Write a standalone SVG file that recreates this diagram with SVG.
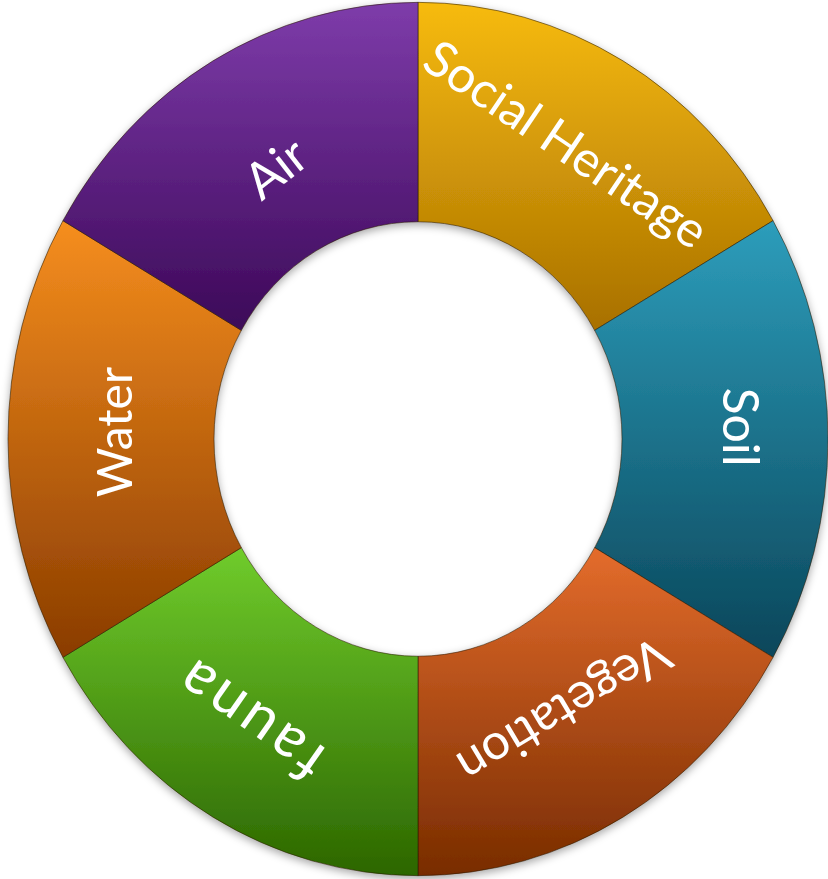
<svg xmlns="http://www.w3.org/2000/svg" width="828" height="879" viewBox="0 0 828 879">
<defs>
<linearGradient id="gGold" x1="0" y1="0" x2="0" y2="1"><stop offset="0" stop-color="#F7BB10"/><stop offset="1" stop-color="#A87000"/></linearGradient>
<linearGradient id="gTeal" x1="0" y1="0" x2="0" y2="1"><stop offset="0" stop-color="#2D9DBB"/><stop offset="1" stop-color="#0A465A"/></linearGradient>
<linearGradient id="gVeg" x1="0" y1="0" x2="0" y2="1"><stop offset="0" stop-color="#E46C2C"/><stop offset="1" stop-color="#782C00"/></linearGradient>
<linearGradient id="gGreen" x1="0" y1="0" x2="0" y2="1"><stop offset="0" stop-color="#70CC2C"/><stop offset="1" stop-color="#2C6600"/></linearGradient>
<linearGradient id="gOrange" x1="0" y1="0" x2="0" y2="1"><stop offset="0" stop-color="#F68E1E"/><stop offset="1" stop-color="#8A3C00"/></linearGradient>
<linearGradient id="gPurple" x1="0" y1="0" x2="0" y2="1"><stop offset="0" stop-color="#7E3CAA"/><stop offset="1" stop-color="#3C0858"/></linearGradient>
<filter id="shadow" x="-10%" y="-10%" width="120%" height="120%">
<feDropShadow dx="0" dy="3" stdDeviation="4" flood-color="#000" flood-opacity="0.35"/>
</filter>
</defs>
<style>
.seg{stroke:#2a1a00;stroke-opacity:0.55;stroke-width:1;}
.lbl{font-family:Lato,"Open Sans","Liberation Sans",sans-serif;fill:#fff;text-anchor:middle;dominant-baseline:central;}
</style>
<g id="ring" filter="url(#shadow)">
<g id="social-heritage">
<path class="seg" fill="url(#gGold)" d="M418,2.35 A410,436.65 0 0 1 773.07,220.67 L594.67,330.37 A204,217.26 0 0 0 418,221.74 Z"/>
<text class="lbl" font-size="50" transform="translate(567,143) rotate(34)">Social Heritage</text>
</g>
<g id="soil">
<path class="seg" fill="url(#gTeal)" d="M773.07,220.67 A410,436.65 0 0 1 773.07,657.33 L594.67,547.63 A204,217.26 0 0 0 594.67,330.37 Z"/>
<text class="lbl" font-size="50" transform="translate(742,427) rotate(90)">Soil</text>
</g>
<g id="vegetation">
<path class="seg" fill="url(#gVeg)" d="M773.07,657.33 A410,436.65 0 0 1 418,875.65 L418,656.26 A204,217.26 0 0 0 594.67,547.63 Z"/>
<text class="lbl" font-size="50" transform="translate(565,712) rotate(149)">Vegetation</text>
</g>
<g id="fauna">
<path class="seg" fill="url(#gGreen)" d="M418,875.65 A410,436.65 0 0 1 62.93,657.33 L241.33,547.63 A204,217.26 0 0 0 418,656.26 Z"/>
<text class="lbl" font-size="60" letter-spacing="4" transform="translate(248,722) rotate(215)">fauna</text>
</g>
<g id="water">
<path class="seg" fill="url(#gOrange)" d="M62.93,657.33 A410,436.65 0 0 1 62.93,220.67 L241.33,330.37 A204,217.26 0 0 0 241.33,547.63 Z"/>
<text class="lbl" font-size="48" transform="translate(113,432) rotate(-90)">Water</text>
</g>
<g id="air">
<path class="seg" fill="url(#gPurple)" d="M62.93,220.67 A410,436.65 0 0 1 418,2.35 L418,221.74 A204,217.26 0 0 0 241.33,330.37 Z"/>
<text class="lbl" font-size="50" transform="translate(275,167) rotate(-38)">Air</text>
</g>
</g>
</svg>
